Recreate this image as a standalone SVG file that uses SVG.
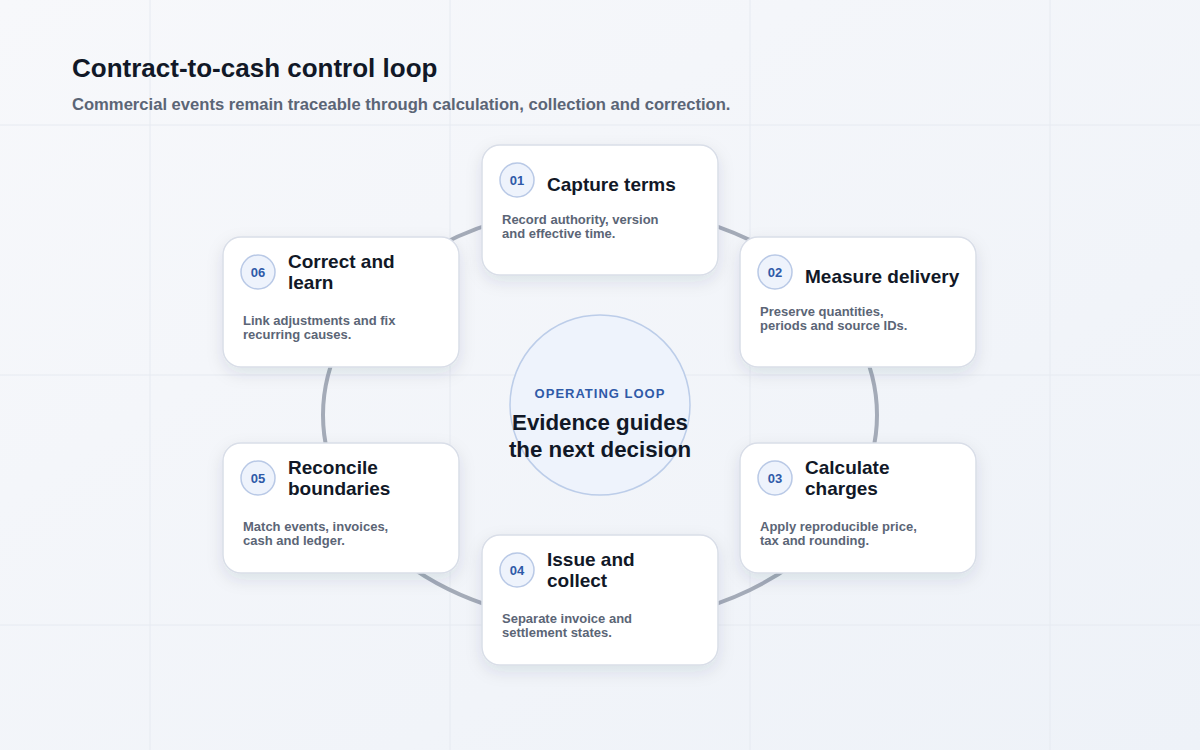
<svg xmlns="http://www.w3.org/2000/svg" width="1200" height="750" viewBox="0 0 1200 750">
<defs>
<linearGradient id="bg" x1="0" y1="0" x2="1" y2="1"><stop offset="0" stop-color="#f7f8fb"/><stop offset="1" stop-color="#eef2f8"/></linearGradient>
<filter id="sh" x="-20%" y="-20%" width="140%" height="150%"><feDropShadow dx="0" dy="6" stdDeviation="8" flood-color="#1e2a46" flood-opacity="0.10"/></filter>
<style>
.card{fill:#fff;stroke:#d9dee8;stroke-width:1.5}
.badge{fill:#eef3fc;stroke:#b9c9e6;stroke-width:1.5}
.num{font:bold 13px "Liberation Sans",Arial,sans-serif;fill:#2f5aa8;text-anchor:middle}
.t{font:bold 19px "Liberation Sans",Arial,sans-serif;fill:#111827}
.b{font:bold 13px "Liberation Sans",Arial,sans-serif;fill:#5b6576}
.grid{stroke:#e6eaf1;stroke-width:1}
</style>
</defs>
<rect width="1200" height="750" fill="url(#bg)"/>
<g class="grid">
<line x1="150" y1="0" x2="150" y2="750"/><line x1="450" y1="0" x2="450" y2="750"/><line x1="750" y1="0" x2="750" y2="750"/><line x1="1050" y1="0" x2="1050" y2="750"/>
<line x1="0" y1="125" x2="1200" y2="125"/><line x1="0" y1="375" x2="1200" y2="375"/><line x1="0" y1="625" x2="1200" y2="625"/>
</g>
<text x="72" y="77" style="font:bold 26px 'Liberation Sans',Arial,sans-serif;fill:#111827">Contract-to-cash control loop</text>
<text x="72" y="110" style="font:bold 16.6px 'Liberation Sans',Arial,sans-serif;fill:#5b6576">Commercial events remain traceable through calculation, collection and correction.</text>
<g id="connectors">
<ellipse cx="600" cy="415" rx="277" ry="208" fill="none" stroke="#a4abb8" stroke-width="4"/>
</g>
<g id="center">
<circle cx="600" cy="405" r="90" fill="#eef3fc" stroke="#bccde9" stroke-width="1.5"/>
<text x="600" y="398" text-anchor="middle" style="font:bold 13px 'Liberation Sans',Arial,sans-serif;fill:#2f5aa8;letter-spacing:1px">OPERATING LOOP</text>
<text x="600" y="430" text-anchor="middle" style="font:bold 22.3px 'Liberation Sans',Arial,sans-serif;fill:#111827">Evidence guides</text>
<text x="600" y="457" text-anchor="middle" style="font:bold 22.3px 'Liberation Sans',Arial,sans-serif;fill:#111827">the next decision</text>
</g>
<g id="n1" transform="translate(482,145)"><rect class="card" width="236" height="130" rx="18" filter="url(#sh)"/><circle class="badge" cx="35" cy="35" r="17"/><text class="num" x="35" y="40">01</text><text class="t" x="65" y="46">Capture terms</text><text class="b" x="20" y="79">Record authority, version</text><text class="b" x="20" y="93">and effective time.</text></g>
<g id="n2" transform="translate(740,237)"><rect class="card" width="236" height="130" rx="18" filter="url(#sh)"/><circle class="badge" cx="35" cy="35" r="17"/><text class="num" x="35" y="40">02</text><text class="t" x="65" y="46">Measure delivery</text><text class="b" x="20" y="79">Preserve quantities,</text><text class="b" x="20" y="93">periods and source IDs.</text></g>
<g id="n3" transform="translate(740,443)"><rect class="card" width="236" height="130" rx="18" filter="url(#sh)"/><circle class="badge" cx="35" cy="35" r="17"/><text class="num" x="35" y="40">03</text><text class="t" x="65" y="31">Calculate</text><text class="t" x="65" y="52">charges</text><text class="b" x="20" y="88">Apply reproducible price,</text><text class="b" x="20" y="102">tax and rounding.</text></g>
<g id="n4" transform="translate(482,535)"><rect class="card" width="236" height="130" rx="18" filter="url(#sh)"/><circle class="badge" cx="35" cy="35" r="17"/><text class="num" x="35" y="40">04</text><text class="t" x="65" y="31">Issue and</text><text class="t" x="65" y="52">collect</text><text class="b" x="20" y="88">Separate invoice and</text><text class="b" x="20" y="102">settlement states.</text></g>
<g id="n5" transform="translate(223,443)"><rect class="card" width="236" height="130" rx="18" filter="url(#sh)"/><circle class="badge" cx="35" cy="35" r="17"/><text class="num" x="35" y="40">05</text><text class="t" x="65" y="31">Reconcile</text><text class="t" x="65" y="52">boundaries</text><text class="b" x="20" y="88">Match events, invoices,</text><text class="b" x="20" y="102">cash and ledger.</text></g>
<g id="n6" transform="translate(223,237)"><rect class="card" width="236" height="130" rx="18" filter="url(#sh)"/><circle class="badge" cx="35" cy="35" r="17"/><text class="num" x="35" y="40">06</text><text class="t" x="65" y="31">Correct and</text><text class="t" x="65" y="52">learn</text><text class="b" x="20" y="88">Link adjustments and fix</text><text class="b" x="20" y="102">recurring causes.</text></g>
</svg>
